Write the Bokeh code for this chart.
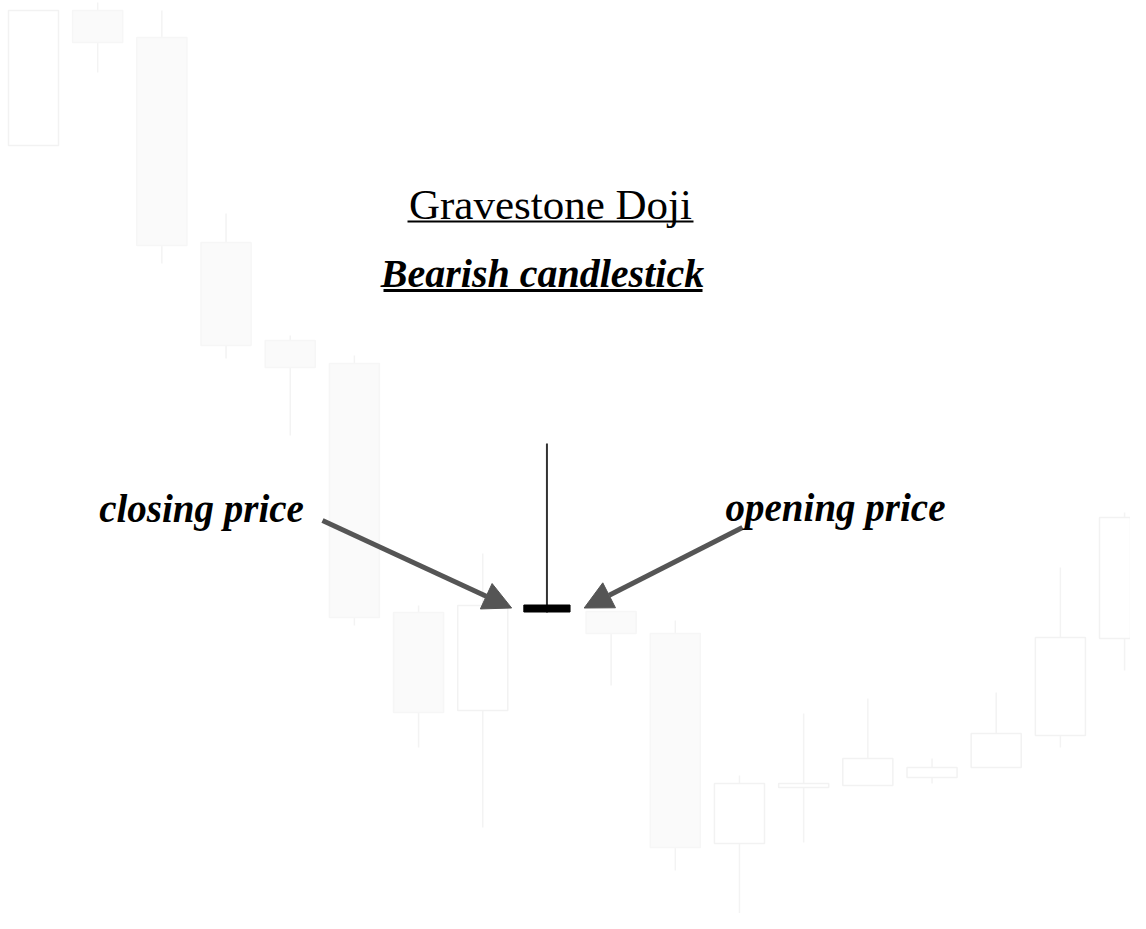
from bokeh.plotting import figure
from bokeh.models import ColumnDataSource, Range1d, Label, Arrow, NormalHead
from bokeh.embed import file_html
from bokeh.resources import INLINE

# ---- data: faint background candles (index, open, high, low, close) ----
idx   = [0, 1, 2, 3, 4, 5, 6, 7, 9, 10, 11, 12, 13, 14, 15, 16, 17]
opens = [78.4, 91.9, 89.2, 68.7, 58.9, 56.6, 31.7, 21.9, 31.8, 29.6, 8.6, 14.2, 14.4, 15.2, 16.2, 19.4, 29.1]
highs = [91.9, 92.7, 91.9, 71.6, 59.4, 57.4, 32.4, 37.6, 31.8, 30.9, 15.4, 21.6, 23.1, 17.1, 23.7, 36.2, 41.7]
lows  = [78.4, 85.7, 66.6, 57.1, 49.4, 30.4, 18.2, 10.2, 24.4, 5.9, 0.2, 8.7, 14.4, 14.6, 16.2, 18.2, 25.9]
closes= [91.9, 88.7, 68.4, 58.4, 56.2, 31.2, 21.7, 32.4, 29.6, 8.2, 14.6, 14.6, 17.1, 16.2, 19.6, 29.2, 41.2]

# ---- the highlighted gravestone doji ----
doji_idx = [8]
doji_open = [32.1]
doji_high = [48.6]
doji_low = [31.7]
doji_close = [32.1]

title_text = "Gravestone Doji"
subtitle_text = "Bearish candlestick"
left_label = "closing price"
right_label = "opening price"

# ---- page-pixel helpers (layout only) ----
X0, DX = 33.0, 64.18
def px2x(px):
    return (px - X0) / DX
def py2y(py):
    return (929.0 - py) / 10.0

W, H = 1130, 913
p = figure(width=W, height=H, output_backend="svg", toolbar_location=None,
           x_range=Range1d(px2x(0), px2x(W)), y_range=Range1d(py2y(H), py2y(0)),
           x_axis_location=None, y_axis_location=None, min_border=0,
           outline_line_color=None, background_fill_color="white",
           border_fill_color="white")
p.grid.visible = False

bear = [i for i in range(len(idx)) if opens[i] > closes[i]]
bull = [i for i in range(len(idx)) if opens[i] <= closes[i]]

def sub(rows):
    return ColumnDataSource(dict(
        x=[idx[i] for i in rows],
        top=[max(opens[i], closes[i]) for i in rows],
        bottom=[min(opens[i], closes[i]) for i in rows],
        high=[highs[i] for i in rows],
        low=[lows[i] for i in rows]))

all_src = sub(list(range(len(idx))))
p.segment(x0="x", y0="high", x1="x", y1="low", source=all_src, line_color="#f3f3f3", line_width=1.5)
p.vbar(x="x", top="top", bottom="bottom", width=0.78, source=sub(bear),
       fill_color="#fafafa", line_color="#f6f6f6", line_width=1.5)
p.vbar(x="x", top="top", bottom="bottom", width=0.78, source=sub(bull),
       fill_color="white", line_color="#f2f2f2", line_width=1.5)

# doji
dsrc = ColumnDataSource(dict(x=doji_idx, o=doji_open, h=doji_high, l=doji_low, c=doji_close))
p.segment(x0="x", y0="h", x1="x", y1="l", source=dsrc, line_color="#333333", line_width=2)
p.rect(x="x", y="o", width=0.72, height=7, height_units="screen", source=dsrc,
       fill_color="black", line_color="black")

# arrows pointing to the doji body
dx0 = doji_idx[0]
dy0 = doji_close[0]
head_l = NormalHead(size=28, fill_color="#555555", line_color="#555555")
head_r = NormalHead(size=28, fill_color="#555555", line_color="#555555")
p.add_layout(Arrow(end=head_l, x_start=px2x(322), y_start=py2y(520),
                   x_end=dx0 - 0.55, y_end=dy0 + 0.05, line_color="#555555", line_width=5))
p.add_layout(Arrow(end=head_r, x_start=px2x(742), y_start=py2y(527),
                   x_end=dx0 + 0.58, y_end=dy0 + 0.05, line_color="#555555", line_width=5))

# texts (alphabetic baseline renders a little low, so lift slightly)
def lab(cx, base, text, size, style):
    p.add_layout(Label(x=px2x(cx), y=py2y(base - 0.3 * size), text=text, text_align="center",
                       text_baseline="alphabetic", text_font="Liberation Serif",
                       text_font_style=style, text_font_size=f"{size}px", text_color="black"))

lab(550, 217, title_text, 43, "normal")
p.segment(x0=[px2x(407)], y0=[py2y(221)], x1=[px2x(693)], y1=[py2y(221)],
          line_color="black", line_width=2)
lab(542, 285, subtitle_text, 40, "bold italic")
p.segment(x0=[px2x(383)], y0=[py2y(290)], x1=[px2x(702)], y1=[py2y(290)],
          line_color="black", line_width=3)
lab(201, 520, left_label, 39, "bold italic")
lab(835, 519, right_label, 39, "bold italic")

open("out.html", "w").write(file_html(p, INLINE))
